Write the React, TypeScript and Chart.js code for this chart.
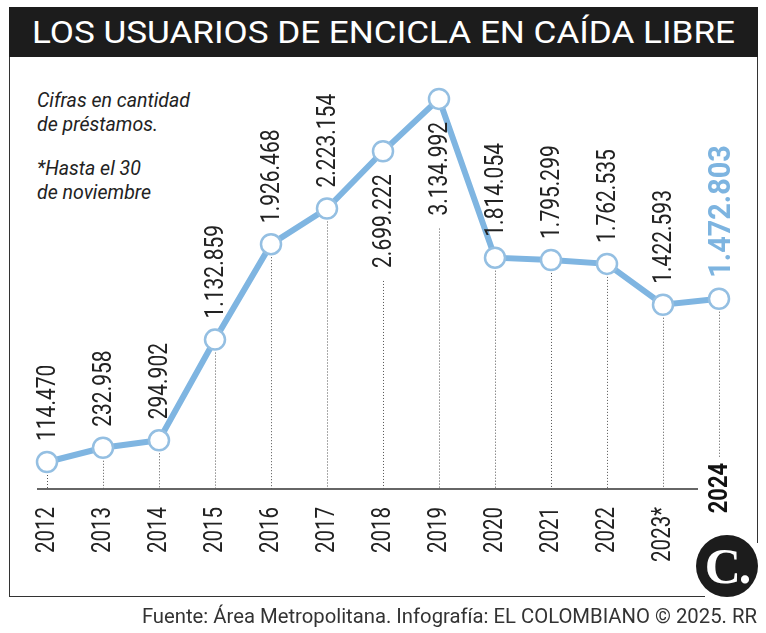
import React, { useEffect, useRef, useMemo } from "react";
import { Chart, registerables } from "chart.js";

Chart.register(...registerables);

// ---- data ----
const years = ["2012", "2013", "2014", "2015", "2016", "2017", "2018", "2019", "2020", "2021", "2022", "2023*", "2024"];
const prestamos = [114470, 232958, 294902, 1132859, 1926468, 2223154, 2699222, 3134992, 1814054, 1795299, 1762535, 1422593, 1472803];
const labelsBelow = ["2018", "2019"];
const highlightYear = "2024";
const titleText = "LOS USUARIOS DE ENCICLA EN CAÍDA LIBRE";
const noteLines = ["Cifras en cantidad", "de préstamos.", "*Hasta el 30", "de noviembre"];
const footerText = "Fuente: Área Metropolitana. Infografía: EL COLOMBIANO © 2025. RR";

const LINE_BLUE = "#7fb5e1";
const POINT_BORDER = "#94bfe2";
const HIGHLIGHT_BLUE = "#7db4e0";
const TEXT_DARK = "#222222";

const fmt = (n: number) => n.toString().replace(/\B(?=(\d{3})+(?!\d))/g, ".");

function fitScale(text: string, font: string, width: number) {
  const c = document.createElement("canvas").getContext("2d");
  if (!c) return 1;
  c.font = font;
  const w = c.measureText(text).width;
  return w > 0 ? width / w : 1;
}

function drawRotated(ctx: CanvasRenderingContext2D, text: string, x: number, y: number, font: string, color: string, align: CanvasTextAlign, sx: number) {
  ctx.save();
  ctx.translate(x, y);
  ctx.rotate(-Math.PI / 2);
  ctx.scale(sx, 1);
  ctx.font = font;
  ctx.fillStyle = color;
  ctx.textAlign = align;
  ctx.textBaseline = "alphabetic";
  ctx.fillText(text, 0, 0);
  ctx.restore();
}

function textLen(ctx: CanvasRenderingContext2D, text: string, font: string, sx: number) {
  ctx.save();
  ctx.font = font;
  const w = ctx.measureText(text).width * sx;
  ctx.restore();
  return w;
}

const LABEL_FONT = "25px Roboto";
const LABEL_SX = 0.84;
const HL_FONT = "bold 31px Roboto";
const HL_SX = 0.93;
const TICK_FONT = "25px Roboto";
const TICK_BOLD = "bold 25px Roboto";
const TICK_SX = 0.82;

const decorPlugin = {
  id: "decor",
  beforeDatasetsDraw(chart: any) {
    const ctx: CanvasRenderingContext2D = chart.ctx;
    const xs = chart.scales.x;
    const axisY = chart.chartArea.bottom;
    const meta = chart.getDatasetMeta(0);
    // axis line
    ctx.save();
    ctx.strokeStyle = "#333";
    ctx.lineWidth = 1.5;
    ctx.beginPath();
    ctx.moveTo(xs.getPixelForValue(0) - 10, axisY);
    ctx.lineTo(xs.getPixelForValue(years.length - 1) - 21, axisY);
    ctx.stroke();
    ctx.restore();
    // dotted drop lines
    meta.data.forEach((pt: any, i: number) => {
      const yr = years[i];
      const px = Math.round(pt.x) + 0.5;
      let start = pt.y + 13;
      if (labelsBelow.includes(yr)) {
        start = pt.y + 23 + textLen(ctx, fmt(prestamos[i]), LABEL_FONT, LABEL_SX) + 13;
      }
      const end = yr === highlightYear ? axisY - 31 : axisY;
      ctx.save();
      ctx.strokeStyle = "#555";
      ctx.lineWidth = 1;
      ctx.setLineDash([1, 2]);
      ctx.beginPath();
      ctx.moveTo(px, start);
      ctx.lineTo(px, end);
      ctx.stroke();
      ctx.restore();
    });
  },
  afterDatasetsDraw(chart: any) {
    const ctx: CanvasRenderingContext2D = chart.ctx;
    const axisY = chart.chartArea.bottom;
    const meta = chart.getDatasetMeta(0);
    meta.data.forEach((pt: any, i: number) => {
      const yr = years[i];
      const txt = fmt(prestamos[i]);
      if (yr === highlightYear) {
        drawRotated(ctx, txt, pt.x + 11, pt.y - 21, HL_FONT, HIGHLIGHT_BLUE, "left", HL_SX);
      } else if (labelsBelow.includes(yr)) {
        drawRotated(ctx, txt, pt.x + 8, pt.y + 23, LABEL_FONT, TEXT_DARK, "right", LABEL_SX);
      } else {
        drawRotated(ctx, txt, pt.x + 8, pt.y - 21, LABEL_FONT, TEXT_DARK, "left", LABEL_SX);
      }
      // category tick labels
      if (yr === highlightYear) {
        drawRotated(ctx, yr, pt.x + 8, axisY - 26, TICK_BOLD, "#111", "right", 0.875);
      } else {
        drawRotated(ctx, yr, pt.x + 7, axisY + 18, TICK_FONT, TEXT_DARK, "right", TICK_SX);
      }
    });
  },
};

function EnciclaChart() {
  const ref = useRef<HTMLCanvasElement | null>(null);
  useEffect(() => {
    if (!ref.current) return;
    const chart = new Chart(ref.current, {
      type: "line",
      data: {
        labels: years,
        datasets: [
          {
            data: prestamos,
            borderColor: LINE_BLUE,
            borderWidth: 6,
            pointRadius: 10,
            pointBorderWidth: 2.5,
            pointBackgroundColor: "#ffffff",
            pointBorderColor: POINT_BORDER,
            tension: 0,
            clip: false as any,
          },
        ],
      },
      options: {
        responsive: false,
        animation: false,
        layout: { padding: { left: 47, right: 47, top: 55, bottom: 144 } },
        scales: {
          x: { display: false, offset: false },
          y: { display: false, min: -110000, max: 3500000 },
        },
        plugins: { legend: { display: false }, tooltip: { enabled: false } },
      },
      plugins: [decorPlugin],
    });
    return () => chart.destroy();
  }, []);
  return <canvas ref={ref} width={766} height={633} style={{ position: "absolute", left: 0, top: 0 }} />;
}

export default function App() {
  const titleFont = "32px Roboto";
  const noteFont = "italic 21px Roboto";
  const footFont = "20px Roboto";
  const titleSx = useMemo(() => fitScale(titleText, titleFont, 703), []);
  const noteSx = useMemo(() => fitScale(noteLines[0], noteFont, 153), []);
  const footSx = useMemo(() => fitScale(footerText, footFont, 615), []);
  const noteTops = [88, 112, 156, 180];
  return (
    <div style={{ position: "absolute", left: 0, top: 0, width: 766, height: 633, background: "#fff", overflow: "hidden", fontFamily: "Roboto" }}>
      {/* title bar */}
      <div style={{ position: "absolute", left: 9, top: 7, width: 749, height: 50, background: "#1c1c1c" }} />
      <div style={{ position: "absolute", left: 32, top: 16, whiteSpace: "nowrap", color: "#fff", font: titleFont, lineHeight: "32px", transform: `scaleX(${titleSx})`, transformOrigin: "0 0" }}>
        {titleText}
      </div>
      {/* frame lines */}
      <div style={{ position: "absolute", left: 9, top: 57, width: 1, height: 540, background: "#333" }} />
      <div style={{ position: "absolute", left: 9, top: 596, width: 696, height: 1, background: "#333" }} />
      <div style={{ position: "absolute", left: 757, top: 57, width: 1, height: 486, background: "#333" }} />
      {/* notes */}
      {noteLines.map((t, i) => (
        <div key={i} style={{ position: "absolute", left: 37, top: noteTops[i], whiteSpace: "nowrap", color: TEXT_DARK, font: noteFont, lineHeight: "24px", transform: `scaleX(${noteSx})`, transformOrigin: "0 0" }}>
          {t}
        </div>
      ))}
      <EnciclaChart />
      {/* logo */}
      <div style={{ position: "absolute", left: 696, top: 535, width: 62, height: 62, borderRadius: "50%", background: "#1c1c1c", color: "#fff", fontFamily: "'Liberation Serif', 'DejaVu Serif', serif", fontWeight: "bold", fontSize: 50, lineHeight: "62px", textAlign: "center", letterSpacing: -2 }}>
        C.
      </div>
      {/* footer */}
      <div style={{ position: "absolute", right: 9, top: 606, whiteSpace: "nowrap", color: "#333", font: footFont, lineHeight: "20px", transform: `scaleX(${footSx})`, transformOrigin: "100% 0" }}>
        {footerText}
      </div>
    </div>
  );
}
